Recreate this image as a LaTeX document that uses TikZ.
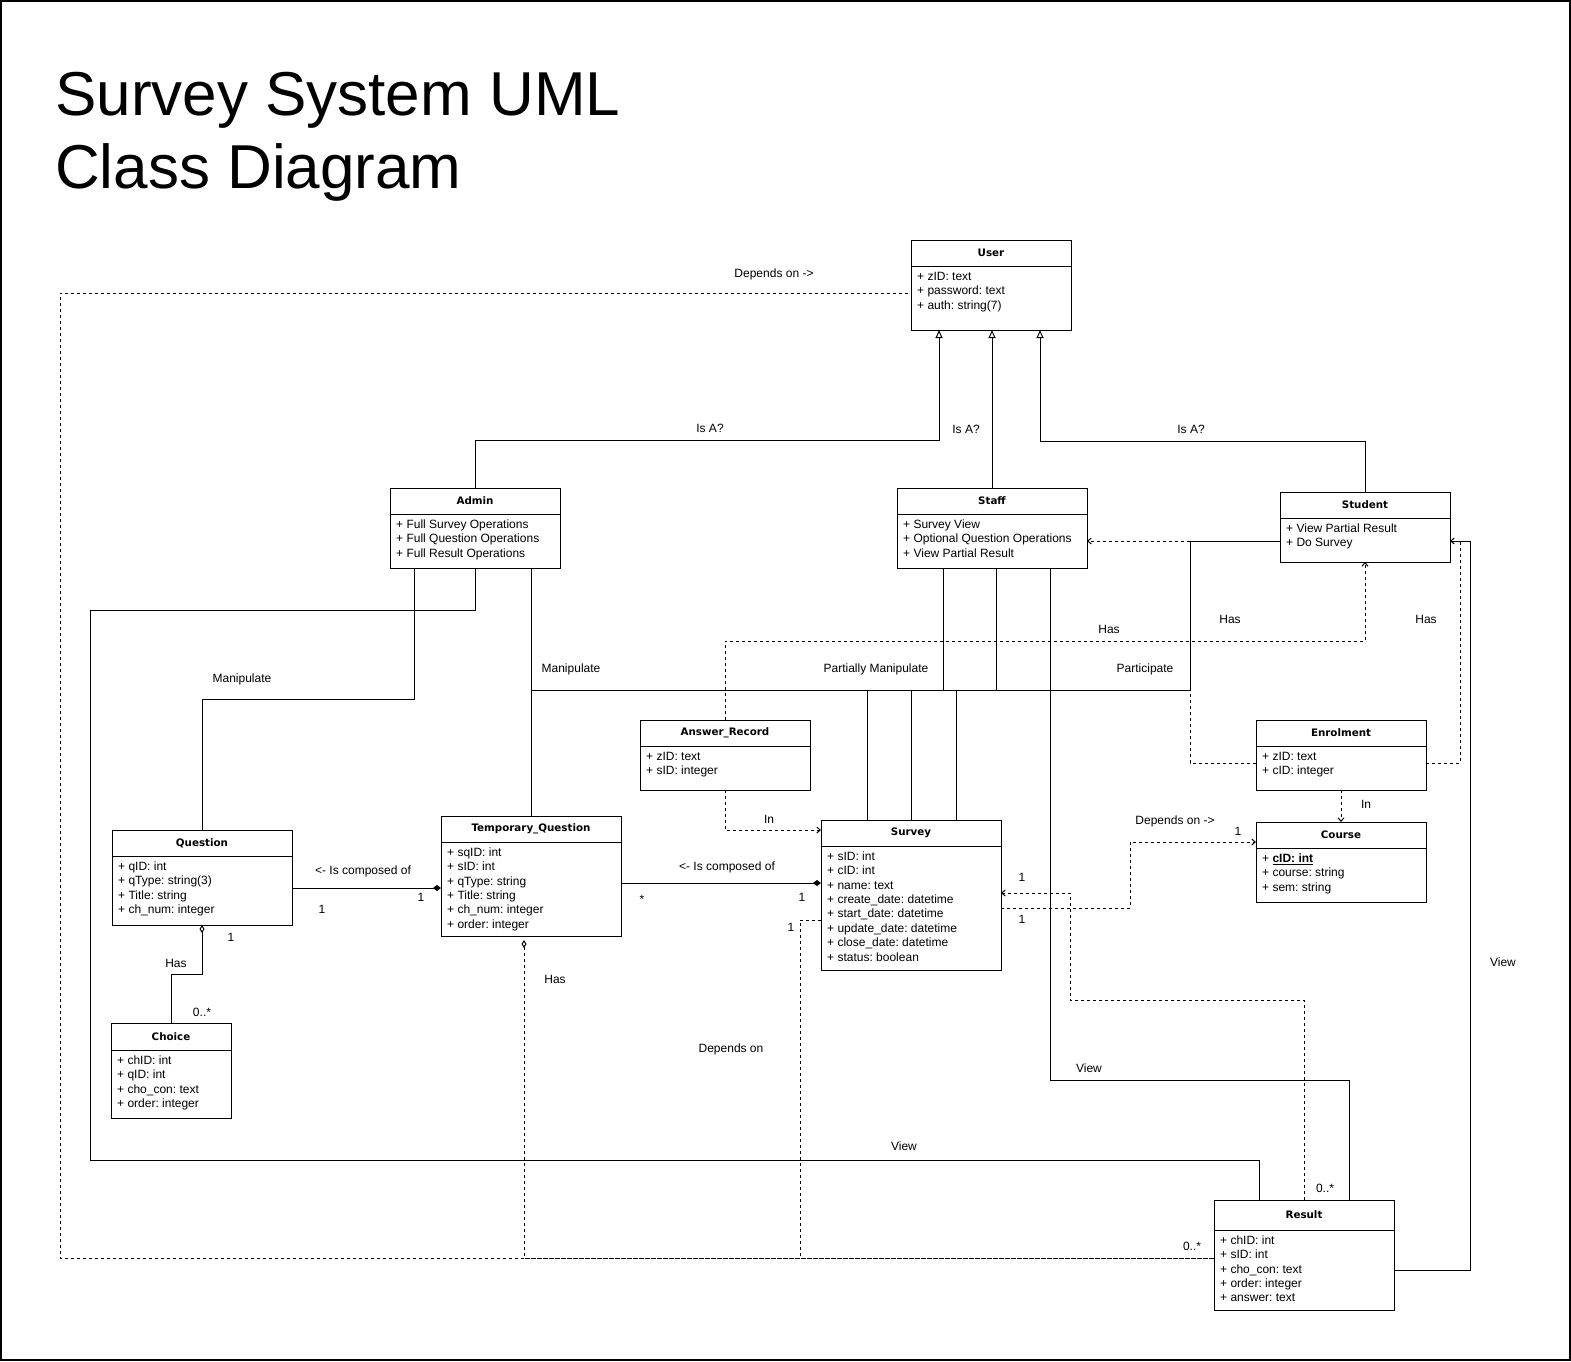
\documentclass[tikz,border=0pt]{standalone}
\usepackage{fontspec}
\setmainfont{Liberation Sans}
\newfontfamily\classfont{DejaVu Sans}
\usetikzlibrary{arrows.meta,calc}
\frenchspacing

% one class box: [header height]{name}{x}{y}{width}{height}{title}{members}
\newcommand{\umlclass}[8][26]{%
  \node[classbox, minimum width=#5pt, minimum height=#6pt] (#2) at (#3,#4) {};
  \draw[conn] ($(#2.north west)+(0,#1)$) -- ($(#2.north east)+(0,#1)$);
  \node[classtitle] (#2-title) at ($(#2.north)+(0,#1/2)$) {#7};
  \node[classattr] (#2-attrs) at ($(#2.north west)+(6,#1+4)$) {\strut#8};
}

\begin{document}
\begin{tikzpicture}[x=1pt, y=-1pt,
    conn/.style={line width=1pt},
    classbox/.style={draw, line width=1pt, inner sep=0pt, outer sep=0pt, anchor=north west},
    classtitle/.style={inner sep=0pt, font=\classfont\bfseries\fontsize{10.3}{12}\selectfont},
    classattr/.style={inner sep=0pt, anchor=north west, align=left, font=\fontsize{12}{14.4}\selectfont},
    lbl/.style={inner sep=0pt, font=\fontsize{12}{14.4}\selectfont},
    isa/.style={conn, -{Triangle[open, length=8pt, width=7pt]}},
    dep/.style={conn, dashed},
    deparrow/.style={dep, -{Straight Barb[length=3.5pt, width=6pt]}},
    compose/.style={conn, -{Diamond[length=8pt, width=6pt]}},
    aggr/.style={conn, {Diamond[open, length=8pt, width=5pt]}-},
  ]
            % Frame and title
            \useasboundingbox (0,0) rectangle (1571,1361);
            \draw[line width=1.5pt] (1,1) rectangle (1570,1360);
            \node[anchor=base west, inner sep=0pt, font=\fontsize{62}{73}\selectfont] (title1) at (55,115) {Survey System UML};
            \node[anchor=base west, inner sep=0pt, font=\fontsize{62}{73}\selectfont] (title2) at (55,188) {Class Diagram};

            % Classes
            \umlclass{user}{911}{240}{160}{90}{User}{+ zID: text\\+ password: text\\+ auth: string(7)}
            \umlclass{admin}{390}{488}{170}{80}{Admin}{+ Full Survey Operations\\+ Full Question Operations\\+ Full Result Operations}
            \umlclass{staff}{897}{488}{190}{80}{Staff}{+ Survey View\\+ Optional Question Operations\\+ View Partial Result}
            \umlclass{student}{1280}{492}{170}{70}{Student}{+ View Partial Result\\+ Do Survey}
            \umlclass{answer}{640}{720}{170}{70}{Answer\_Record}{+ zID: text\\+ sID: integer}
            \umlclass{enrol}{1256}{720}{170}{70}{Enrolment}{+ zID: text\\+ cID: integer}
            \umlclass{course}{1256}{822}{170}{80}{Course}{+ \underline{\textbf{cID: int}}\\+ course: string\\+ sem: string}
            \umlclass{survey}{821}{820}{180}{150}{Survey}{+ sID: int\\+ cID: int\\+ name: text\\+ create\_date: datetime\\+ start\_date: datetime\\+ update\_date: datetime\\+ close\_date: datetime\\+ status: boolean}
            \umlclass{question}{112}{830}{180}{95}{Question}{+ qID: int\\+ qType: string(3)\\+ Title: string\\+ ch\_num: integer}
            \umlclass{tempq}{441}{816}{180}{120}{Temporary\_Question}{+ sqID: int\\+ sID: int\\+ qType: string\\+ Title: string\\+ ch\_num: integer\\+ order: integer}
            \umlclass[27]{choice}{111}{1023}{120}{95}{Choice}{+ chID: int\\+ qID: int\\+ cho\_con: text\\+ order: integer}
            \umlclass[30]{result}{1214}{1200}{180}{110}{Result}{+ chID: int\\+ sID: int\\+ cho\_con: text\\+ order: integer\\+ answer: text}

            % Is A?
            \draw[isa] (admin.north) -- ++(0,-48) -| ($(user.south west)+(28,0)$);
            \draw[isa] (staff.north) -- (staff.north |- user.south);
            \draw[isa] (student.north) -- ++(0,-51) -| ($(user.south east)+(-31,0)$);

            % Associations
            \draw[conn] ($(admin.south west)+(24,0)$) -- ++(0,131) -| (question.north);
            \draw[conn] (admin.south -| tempq.north) -- (tempq.north);
            \draw[conn] (admin.south -| tempq.north) -- ++(0,122) -| ($(survey.north west)+(46,0)$);
            \draw[conn] (admin.south) -- ++(0,42) -- ++(-385,0) -- ++(0,550) -| ($(result.north west)+(45,0)$);
            \draw[conn] ($(staff.south west)+(46,0)$) -- ++(0,122) -| (survey.north);
            \draw[conn] ($(staff.south west)+(99,0)$) -- ++(0,122) -| ($(survey.north west)+(46,0)$);
            \draw[conn] ($(staff.south west)+(153,0)$) -- ++(0,512) -| ($(result.north east)+(-45,0)$);
            \draw[conn] ($(student.north west)+(0,49)$) -- ++(-90,0) -- ++(0,149) -| ($(survey.north west)+(135,0)$);
            \draw[conn] ($(result.north east)+(0,70)$) -- ++(76,0) |- ($(student.north east)+(0,49)$);

            % Composition and aggregation
            \draw[compose] ($(question.north east)+(0,58)$) -- ($(tempq.north west)+(0,72)$);
            \draw[compose] ($(tempq.north east)+(0,67)$) -- ($(survey.north west)+(0,63)$);
            \draw[aggr] (question.south) -- ++(0,49) -| (choice.north);
            \draw[aggr, dashed] ($(tempq.south west)+(83,4)$) |- ($(result.north west)+(0,58)$);

            % Dependencies
            \draw[deparrow] (answer.south) |- ($(survey.north west)+(0,10)$);
            \draw[deparrow] (answer.north) -- ++(0,-79) -| (student.south);
            \draw[deparrow] ($(enrol.north west)+(0,43)$) -- ++(-66,0) |- ($(staff.north east)+(0,53)$);
            \draw[deparrow] ($(enrol.north east)+(0,43)$) -- ++(34,0) |- ($(student.north east)+(0,49)$);
            \draw[deparrow] (enrol.south) -- (course.north);
            \draw[deparrow] ($(survey.north east)+(0,88)$) -- ++(129,0) |- ($(course.north west)+(0,20)$);
            \draw[deparrow] (result.north) -- ++(0,-200) -| ($(survey.north east)+(69,73)$) -- ($(survey.north east)+(0,73)$);
            \draw[dep] ($(result.north west)+(0,58)$) -- ++(-1154,0) |- ($(user.north west)+(0,53)$);
            \draw[dep] ($(survey.north west)+(0,100)$) -- ++(-21,0) |- ($(result.north west)+(0,58)$);

            % Labels
            \node[lbl] (dependsUser) at (774,274) {Depends on ->};
            \node[lbl] (isaAdmin) at (710,428) {Is A?};
            \node[lbl] (isaStaff) at (966,429) {Is A?};
            \node[lbl] (isaStudent) at (1191,429) {Is A?};
            \node[lbl] (manipQuestion) at (242,679) {Manipulate};
            \node[lbl] (manipTemp) at (571,669) {Manipulate};
            \node[lbl] (partManip) at (876,669) {Partially Manipulate};
            \node[lbl] (participate) at (1145,669) {Participate};
            \node[lbl] (hasAnswer) at (1109,629) {Has};
            \node[lbl] (hasStaff) at (1230,619) {Has};
            \node[lbl] (hasStudent) at (1426,619) {Has};
            \node[lbl] (inSurvey) at (769,819) {In};
            \node[lbl] (inCourse) at (1366,804) {In};
            \node[lbl] (dependsCourse) at (1175,821) {Depends on ->};
            \node[lbl] (courseOne) at (1238,831) {1};
            \node[lbl] (surveyOneA) at (1022,877) {1};
            \node[lbl] (surveyOneB) at (1022,919) {1};
            \node[lbl] (composeQ) at (363,871) {<- Is composed of};
            \node[lbl] (tempOne) at (421,897) {1};
            \node[lbl] (questionOne) at (322,909) {1};
            \node[lbl] (composeT) at (727,867) {<- Is composed of};
            \node[lbl] (tempMany) at (642,899) {*};
            \node[lbl] (surveyOneC) at (802,897) {1};
            \node[lbl] (surveyOneD) at (791,927) {1};
            \node[lbl] (hasChoice) at (176,963) {Has};
            \node[lbl] (questionOneB) at (231,937) {1};
            \node[lbl] (choiceMany) at (202,1012) {0..*};
            \node[lbl] (hasTemp) at (555,979) {Has};
            \node[lbl] (dependsSurvey) at (731,1049) {Depends on};
            \node[lbl] (viewStaff) at (1089,1068) {View};
            \node[lbl] (resultManyA) at (1325,1188) {0..*};
            \node[lbl] (resultManyB) at (1192,1246) {0..*};
            \node[lbl] (viewAdmin) at (904,1146) {View};
            \node[lbl] (viewStudent) at (1503,962) {View};
        \end{tikzpicture}
\end{document}
